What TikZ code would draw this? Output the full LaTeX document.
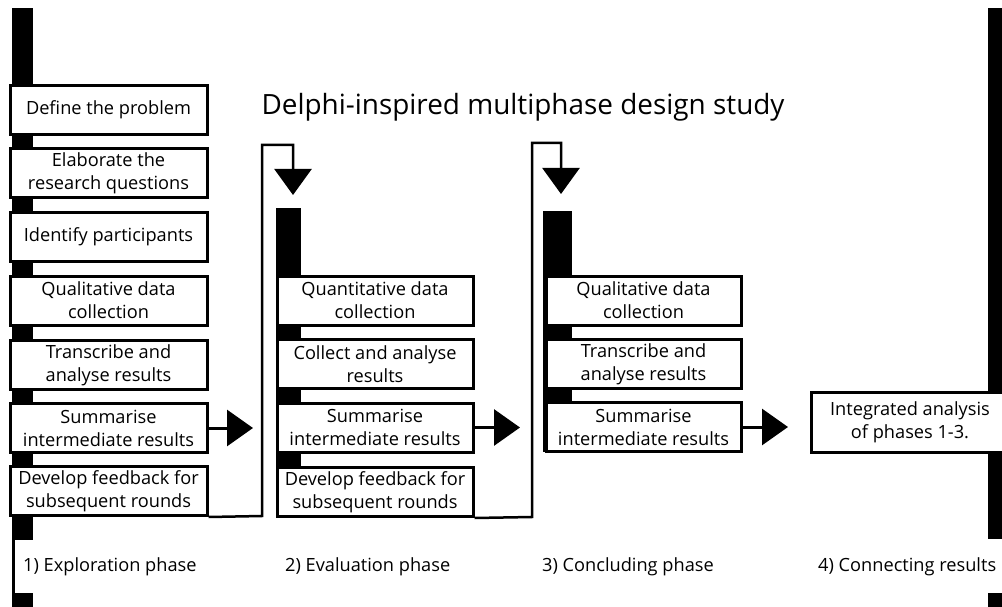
\documentclass[tikz,border=0pt]{standalone}
\usepackage{fontspec}
\setmainfont{Open Sans}
\usetikzlibrary{arrows.meta}
\begin{document}
\begin{tikzpicture}[x=1pt,y=-1pt,
  box/.style={draw=black, line width=3pt, fill=white, minimum width=196pt, minimum height=49pt, inner sep=0pt, align=center, font=\fontsize{18.2}{23}\selectfont},
  bar/.style={fill=black},
  fbline/.style={draw=black, line width=2.5pt, line join=miter, -{Triangle[width=37pt,length=26pt]}},
  fwline/.style={draw=black, line width=3pt, -{Triangle[width=36pt,length=26pt]}},
  lab/.style={anchor=west, inner sep=0pt, font=\fontsize{18.2}{21}\selectfont}]
\useasboundingbox (0,0) rectangle (1002,607);
\fill[white] (0,0) rectangle (1002,607);
% vertical bars
\fill[bar] (12,8) rectangle (33,607);
\fill[bar] (276,208) rectangle (301,517);
\fill[bar] (543,211) rectangle (572,452);
\fill[bar] (988,8) rectangle (1002,607);
% white gaps behind phase labels
\fill[white] (15,540) rectangle (215,593);
\fill[white] (810,539) rectangle (1002,593);
% title
\node[inner sep=0pt, font=\fontsize{27.9}{32}\selectfont] (title) at (523,107) {Delphi-inspired multiphase design study};
% phase 1
\node[box, minimum width=197pt] (a1) at (108.5,110) {Define the problem};
\node[box, minimum width=197pt] (a2) at (108.5,173) {Elaborate the\\research questions};
\node[box, minimum width=197pt] (a3) at (108.5,237) {Identify participants};
\node[box, minimum width=197pt] (a4) at (108.5,300.5) {Qualitative data\\collection};
\node[box, minimum width=197pt] (a5) at (108.5,365) {Transcribe and\\analyse results};
\node[box, minimum width=197pt] (a6) at (108.5,428) {Summarise\\intermediate results};
\node[box, minimum width=197pt] (a7) at (108.5,491) {Develop feedback for\\subsequent rounds};
% phase 2
\node[box] (b1) at (375,300.5) {Quantitative data\\collection};
\node[box] (b2) at (375,364) {Collect and analyse\\results};
\node[box] (b3) at (375,427.5) {Summarise\\intermediate results};
\node[box] (b4) at (375,492) {Develop feedback for\\subsequent rounds};
% phase 3
\node[box, minimum width=195pt] (c1) at (643.5,300.5) {Qualitative data\\collection};
\node[box, minimum width=195pt] (c2) at (643.5,364) {Transcribe and\\analyse results};
\node[box, minimum width=195pt] (c3) at (643.5,427) {Summarise\\intermediate results};
% phase 4
\node[box, minimum width=198pt, minimum height=60pt] (d1) at (910,422.5) {Integrated analysis\\of phases 1-3.};
% phase labels
\node[lab] (l1) at (23,567) {1) Exploration phase};
\node[lab] (l2) at (285,567) {2) Evaluation phase};
\node[lab] (l3) at (542,567) {3) Concluding phase};
\node[lab] (l4) at (818,567) {4) Connecting results};
% arrow end points
\coordinate (t1) at (253,428);
\coordinate (t2) at (520,427.5);
\coordinate (t3) at (788,427);
\coordinate (f1) at (293,195);
\coordinate (f2) at (561,194);
% forward arrows
\draw[fwline] (a6.east) -- (t1);
\draw[fwline] (b3.east) -- (t2);
\draw[fwline] (c3.east) -- (t3);
% feedback loops
\draw[fbline] (a7.south east) -- (262,516) -- (262,145) -- (293,145) -- (f1);
\draw[fbline] (b4.south east) -- (532,517) -- (532,143) -- (561,143) -- (f2);
\end{tikzpicture}
\end{document}
